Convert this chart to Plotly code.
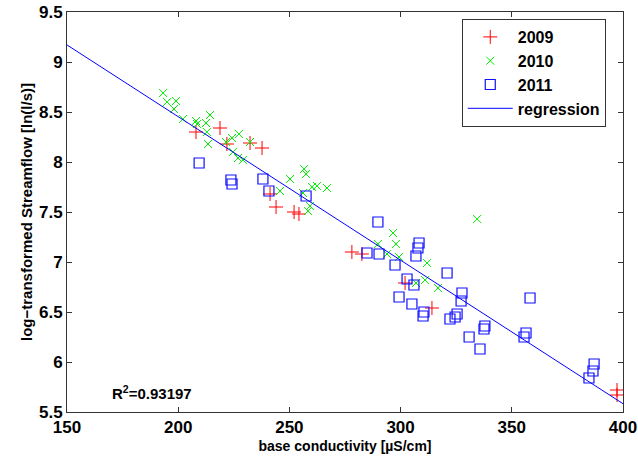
import numpy as np
import plotly.graph_objects as go

# data
x_2009 = [208.0, 218.8, 221.9, 232.3, 237.7, 241.3, 244.0, 252.1, 254.3, 278.1, 282.6, 302.0, 314.1, 397.3, 397.3]
y_2009 = [8.30, 8.34, 8.18, 8.19, 8.14, 7.68, 7.55, 7.50, 7.48, 7.10, 7.08, 6.79, 6.54, 5.72, 5.67]

x_2010 = [193.2, 195.0, 199.0, 198.1, 202.2, 208.0, 208.5, 212.5, 214.3, 212.9, 213.4,
          224.2, 227.3, 221.5, 232.3, 224.6, 226.9, 229.1, 256.6, 257.5, 250.3, 245.8,
          260.2, 262.4, 266.9, 256.1, 259.3, 258.4, 289.8, 293.9, 296.6, 297.9, 299.3,
          311.9, 306.9, 311.0, 316.8, 334.4]
y_2010 = [8.69, 8.60, 8.61, 8.53, 8.43, 8.41, 8.38, 8.39, 8.47, 8.30, 8.18,
          8.24, 8.28, 8.20, 8.20, 8.10, 8.04, 8.02, 7.93, 7.88, 7.83, 7.71,
          7.75, 7.76, 7.74, 7.69, 7.56, 7.51, 7.18, 7.08, 7.29, 7.18, 7.05,
          6.99, 6.79, 6.82, 6.74, 7.43]

x_2011 = [209.4, 223.7, 224.2, 238.1, 240.8, 257.5, 289.8, 284.9, 290.3, 297.5, 308.3, 307.8,
          306.9, 320.9, 302.9, 306.0, 299.3, 305.1, 310.5, 310.1, 327.6, 327.2, 325.4, 324.5,
          322.2, 330.8, 358.2, 337.9, 337.5, 335.7, 356.4, 355.5, 387.0, 386.5, 384.7]
y_2011 = [7.99, 7.82, 7.78, 7.83, 7.71, 7.66, 7.40, 7.09, 7.08, 6.97, 7.19, 7.14,
          7.06, 6.89, 6.83, 6.77, 6.65, 6.58, 6.50, 6.46, 6.69, 6.61, 6.48, 6.45,
          6.43, 6.25, 6.64, 6.36, 6.33, 6.13, 6.29, 6.25, 5.98, 5.91, 5.84]

reg_slope = -0.01435
reg_intercept = 11.323
r_squared = "0.93197"

x_range = [150, 400]
y_range = [5.5, 9.5]

font = "Liberation Sans, Arial, sans-serif"

fig = go.Figure()
fig.add_trace(go.Scatter(x=x_2009, y=y_2009, mode="markers", name="2009",
                         marker=dict(symbol="cross-thin", size=10, color="rgba(0,0,0,0)",
                                     line=dict(color="#ff0000", width=1))))
fig.add_trace(go.Scatter(x=x_2010, y=y_2010, mode="markers", name="2010",
                         marker=dict(symbol="x-thin", size=8, color="rgba(0,0,0,0)",
                                     line=dict(color="#00ee00", width=1))))
fig.add_trace(go.Scatter(x=x_2011, y=y_2011, mode="markers", name="2011",
                         marker=dict(symbol="square-open", size=10, color="#1010ff",
                                     line=dict(color="#1010ff", width=1.2))))
reg_x = np.array(x_range, dtype=float)
fig.add_trace(go.Scatter(x=reg_x, y=reg_intercept + reg_slope * reg_x, mode="lines",
                         name="regression", line=dict(color="#0000ff", width=1)))

fig.add_annotation(x=169.5, y=5.7, xref="x", yref="y", xanchor="left", yanchor="middle",
                   text="R<sup>2</sup>=" + r_squared, showarrow=False,
                   font=dict(family=font, size=15, color="black", weight="bold"))

axis_common = dict(showline=True, linecolor="#333333", linewidth=1, mirror="ticks",
                   ticks="inside", ticklen=5, tickcolor="#333333", showgrid=False,
                   zeroline=False, automargin=False,
                   tickfont=dict(family=font, size=17, color="black", weight="bold"))

fig.update_xaxes(range=x_range, dtick=50, tick0=150,
                 title=dict(text="base conductivity [µS/cm]", standoff=4,
                            font=dict(family=font, size=14, color="black", weight="bold")),
                 **axis_common)
fig.update_yaxes(range=y_range, dtick=0.5, tick0=5.5,
                 title=dict(text="log−transformed Streamflow [ln(l/s)]", standoff=2,
                            font=dict(family=font, size=15, color="black", weight="bold")),
                 **axis_common)

fig.update_layout(
    width=638, height=462,
    margin=dict(l=67, r=15, t=12, b=50),
    plot_bgcolor="white", paper_bgcolor="white",
    font=dict(family=font, color="black"),
    legend=dict(x=0.969, y=0.9825, xanchor="right", yanchor="top",
                bgcolor="white", bordercolor="#333333", borderwidth=1,
                font=dict(family=font, size=16, color="black", weight="bold"),
                itemwidth=45, tracegroupgap=0),
)

# drop the default 8px body margin so the figure sits at the window corner
fig.write_html("out.html", config={"displayModeBar": False},
               post_script="document.body.style.margin = '0';")
